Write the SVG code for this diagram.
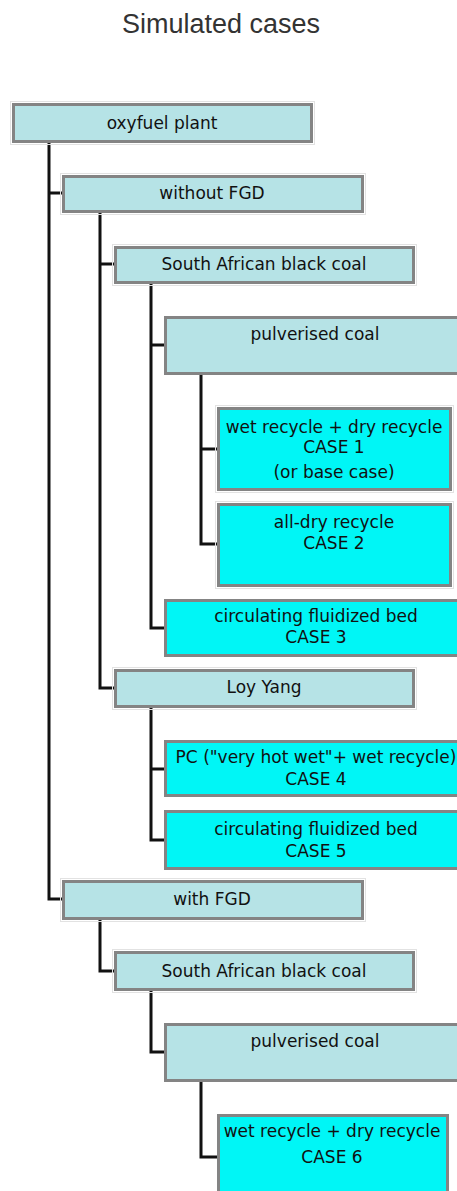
<svg xmlns="http://www.w3.org/2000/svg" width="457" height="1191" viewBox="0 0 457 1191">
<style>
.title{font-family:"Liberation Sans",Arial,sans-serif;font-size:27px;fill:#333;text-anchor:middle}
.t{font-family:"DejaVu Sans","Liberation Sans",sans-serif;font-size:17px;fill:#111;text-anchor:middle}
.grey{fill:#b6e3e6;stroke:#848484;stroke-width:3}
.cyan{fill:#00f6f6;stroke:#848484;stroke-width:3}
.halo{fill:none;stroke:#e2e2e2;stroke-width:1}
.ln{fill:none;stroke:#111;stroke-width:3}
</style>
<rect width="457" height="1191" fill="#fff"/>
<text class="title" x="221" y="33">Simulated  cases</text>
<g id="connectors">
<path class="ln" d="M49,143 V899 H62"/>
<path class="ln" d="M49,193 H62"/>
<path class="ln" d="M100,213 V688 H114"/>
<path class="ln" d="M100,264 H114"/>
<path class="ln" d="M151,284 V628 H164"/>
<path class="ln" d="M151,345 H164"/>
<path class="ln" d="M201,375 V544 H217"/>
<path class="ln" d="M201,449 H217"/>
<path class="ln" d="M151,708 V840 H164"/>
<path class="ln" d="M151,769 H164"/>
<path class="ln" d="M100,920 V971 H114"/>
<path class="ln" d="M151,991 V1052 H164"/>
<path class="ln" d="M201,1082 V1157 H217"/>
</g>
<g id="oxyfuel">
<rect class="halo" x="10.5" y="101.5" width="304" height="43"/>
<rect class="grey" x="13.5" y="104.5" width="298" height="37"/>
<text class="t" x="162" y="129">oxyfuel plant</text>
</g>
<g id="withoutFGD">
<rect class="halo" x="60.5" y="173.5" width="305" height="41"/>
<rect class="grey" x="63.5" y="176.5" width="299" height="35"/>
<text class="t" x="212" y="199">without FGD</text>
</g>
<g id="sabc1">
<rect class="halo" x="112.5" y="244.5" width="304" height="41"/>
<rect class="grey" x="115.5" y="247.5" width="298" height="35"/>
<text class="t" x="264" y="270">South African black coal</text>
</g>
<g id="pc1">
<rect class="grey" x="165.5" y="317.5" width="300" height="56"/>
<text class="t" x="315" y="340">pulverised coal</text>
</g>
<g id="case1">
<rect class="halo" x="215.5" y="405.5" width="238" height="87"/>
<rect class="cyan" x="218.5" y="408.5" width="232" height="81"/>
<text class="t" x="334" y="433">wet recycle + dry recycle</text>
<text class="t" x="334" y="453">CASE 1</text>
<text class="t" x="334" y="478">(or base case)</text>
</g>
<g id="case2">
<rect class="halo" x="215.5" y="501.5" width="238" height="87"/>
<rect class="cyan" x="218.5" y="504.5" width="232" height="81"/>
<text class="t" x="334" y="528">all-dry recycle</text>
<text class="t" x="334" y="549">CASE 2</text>
</g>
<g id="case3">
<rect class="cyan" x="165.5" y="600.5" width="300" height="55"/>
<text class="t" x="316" y="622">circulating fluidized bed</text>
<text class="t" x="316" y="643">CASE 3</text>
</g>
<g id="loyyang">
<rect class="halo" x="112.5" y="667.5" width="304" height="42"/>
<rect class="grey" x="115.5" y="670.5" width="298" height="36"/>
<text class="t" x="264" y="693">Loy Yang</text>
</g>
<g id="case4">
<rect class="cyan" x="165.5" y="741.5" width="300" height="54"/>
<text class="t" x="316" y="763">PC ("very hot wet"+ wet recycle)</text>
<text class="t" x="316" y="785">CASE 4</text>
</g>
<g id="case5">
<rect class="cyan" x="165.5" y="811.5" width="300" height="57"/>
<text class="t" x="316" y="835">circulating fluidized bed</text>
<text class="t" x="316" y="857">CASE 5</text>
</g>
<g id="withFGD">
<rect class="halo" x="60.5" y="878.5" width="305" height="43"/>
<rect class="grey" x="63.5" y="881.5" width="299" height="37"/>
<text class="t" x="212" y="905">with FGD</text>
</g>
<g id="sabc2">
<rect class="halo" x="112.5" y="949.5" width="304" height="43"/>
<rect class="grey" x="115.5" y="952.5" width="298" height="37"/>
<text class="t" x="264" y="977">South African black coal</text>
</g>
<g id="pc2">
<rect class="grey" x="165.5" y="1024.5" width="300" height="56"/>
<text class="t" x="315" y="1047">pulverised coal</text>
</g>
<g id="case6">
<rect class="cyan" x="218.5" y="1115.5" width="229" height="90"/>
<text class="t" x="332" y="1137">wet recycle + dry recycle</text>
<text class="t" x="332" y="1163">CASE 6</text>
</g>
</svg>
